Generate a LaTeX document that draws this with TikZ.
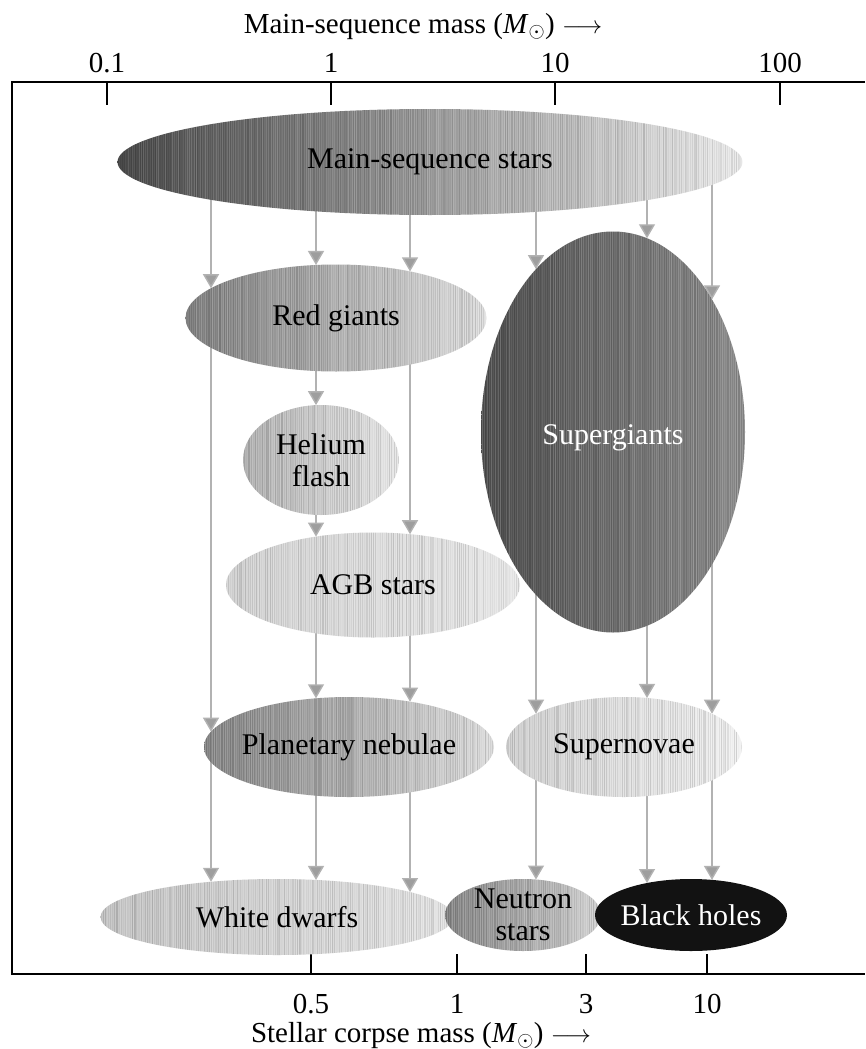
\documentclass[tikz,border=0pt]{standalone}
\usepackage{fontspec}
\setmainfont{Liberation Serif}
\usetikzlibrary{shapes.geometric,arrows.meta,calc}
\pgfdeclarelayer{background}
\pgfdeclarelayer{paper}
\pgfsetlayers{paper,background,main}
\newcommand\flow[3]{%
  \draw[flowarrow] let \p1=(#2.center), \p2=(#2.east), \p3=(#2.north), \p4=(#1.center) in
    (#3pt,\y4) -- ({#3pt},{\y1+(\y3-\y1)*sqrt(1-((#3pt-\x1)/(\x2-\x1))^2)});%
}
\tikzset{
  lbl/.style={font=\fontsize{30}{32}\selectfont, align=center, inner sep=0pt},
  axlbl/.style={font=\fontsize{29}{31}\selectfont, align=center, inner sep=0pt},
  blob/.style n args={3}{ellipse, outer sep=0pt, inner sep=0pt, shading=axis,
    left color=#1, right color=#2,
    path picture={
      \pgfmathsetseed{#3}
      \foreach \k in {-150,...,150}{
        \pgfmathsetmacro\oa{0.14*rnd}
        \pgfmathsetmacro\ob{0.18*rnd}
        \pgfmathsetmacro\wa{0.4+1.4*rnd}
        \fill[black,opacity=\oa] ([xshift=\k*2.2pt]path picture bounding box.center) ++(0,-250pt) rectangle ++(\wa pt,500pt);
        \fill[white,opacity=\ob] ([xshift=\k*2.2pt+1.1pt]path picture bounding box.center) ++(0,-250pt) rectangle ++(0.9pt,500pt);
      }
    }},
  flowarrow/.style={draw=black!30, line width=1.4pt, -{Triangle[width=16pt,length=14pt,fill=black!38]}},
  frameline/.style={line width=1.3pt, black},
  tick/.style={line width=1.1pt, black}
}
\begin{document}
\begin{tikzpicture}[x=1pt,y=-1pt]
\useasboundingbox (0,0) rectangle (865,1049);
\begin{pgfonlayer}{paper}
\fill[white] (0,0) rectangle (865,1049);
\end{pgfonlayer}
% axes
\draw[frameline] (865,82) -- (12,82) -- (12,974) -- (865,974);
\foreach \xx in {107,331,555,780} \draw[tick] (\xx,82) -- (\xx,105);
\foreach \xx in {311,457,586,707} \draw[tick] (\xx,954) -- (\xx,974);
\node[axlbl] (toptitle) at (423,27) {Main-sequence mass (\textit{M}$_{\odot}$) $\longrightarrow$};
\node[axlbl] (t01) at (107,63) {0.1};
\node[axlbl] (t1) at (331,63) {1};
\node[axlbl] (t10) at (555,63) {10};
\node[axlbl] (t100) at (780,63) {100};
\node[axlbl] (b05) at (311,1004) {0.5};
\node[axlbl] (b1) at (457,1004) {1};
\node[axlbl] (b3) at (586,1004) {3};
\node[axlbl] (b10) at (707,1004) {10};
\node[axlbl] (bottitle) at (421,1036) {Stellar corpse mass (\textit{M}$_{\odot}$) $\longrightarrow$};
% ellipses
\node[blob={black!72}{black!7}{11}, minimum width=625pt, minimum height=106pt] (ms) at (430,162) {};
\node[blob={black!50}{black!12}{12}, minimum width=301pt, minimum height=107pt] (rg) at (336,318) {};
\node[blob={black!30}{black!9}{13}, minimum width=156pt, minimum height=110pt] (hf) at (321,460) {};
\node[blob={black!17}{black!9}{14}, minimum width=294pt, minimum height=105pt] (agb) at (373,585) {};
\node[blob={black!70}{black!44}{15}, minimum width=264pt, minimum height=401pt] (sg) at (613,432) {};
\node[blob={black!48}{black!13}{16}, minimum width=290pt, minimum height=100pt] (pn) at (349,747) {};
\node[blob={black!18}{black!5}{17}, minimum width=236pt, minimum height=100pt] (sn) at (624,747) {};
\node[blob={black!23}{black!10}{18}, minimum width=353pt, minimum height=76pt] (wd) at (277,917) {};
\node[blob={black!48}{black!17}{19}, minimum width=156pt, minimum height=72pt] (ns) at (523,915) {};
\node[ellipse, outer sep=0pt, inner sep=0pt, fill=black!93, minimum width=192pt, minimum height=72pt] (bh) at (691,915) {};
% labels
\node[lbl] (msl) at (ms.center) {Main-sequence stars};
\node[lbl] (rgl) at (rg.center) {Red giants};
\node[lbl] (hfl) at (hf.center) {Helium\\flash};
\node[lbl] (agbl) at (agb.center) {AGB stars};
\node[lbl, text=white, yshift=-6pt] (sgl) at (sg.center) {Supergiants};
\node[lbl] (pnl) at (pn.center) {Planetary nebulae};
\node[lbl] (snl) at (sn.center) {Supernovae};
\node[lbl] (wdl) at (wd.center) {White dwarfs};
\node[lbl] (nsl) at (ns.center) {Neutron\\stars};
\node[lbl, text=white] (bhl) at (bh.center) {Black holes};
% flows
\begin{pgfonlayer}{background}
\flow{ms}{rg}{211}
\flow{ms}{rg}{316}
\flow{ms}{rg}{410}
\flow{ms}{sg}{536}
\flow{ms}{sg}{647}
\flow{ms}{sg}{712}
\flow{rg}{pn}{211}
\flow{rg}{hf}{316}
\flow{rg}{agb}{410}
\flow{hf}{agb}{316}
\flow{agb}{pn}{316}
\flow{agb}{pn}{410}
\flow{sg}{sn}{536}
\flow{sg}{sn}{647}
\flow{sg}{sn}{712}
\flow{pn}{wd}{211}
\flow{pn}{wd}{316}
\flow{pn}{wd}{410}
\flow{sn}{ns}{536}
\flow{sn}{bh}{647}
\flow{sn}{bh}{712}
\end{pgfonlayer}
\end{tikzpicture}
\end{document}
